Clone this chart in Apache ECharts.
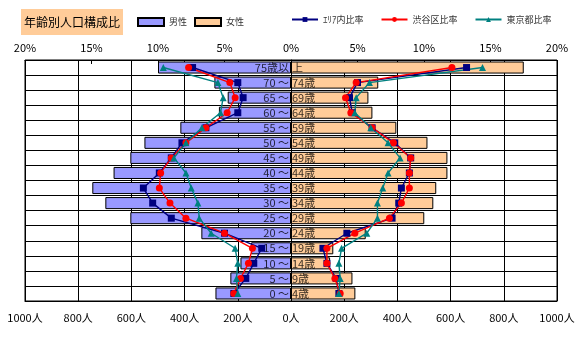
<!DOCTYPE html>
<html><head><meta charset="utf-8">
<script src="https://cdn.jsdelivr.net/npm/echarts@6/dist/echarts.min.js"></script>
<style>html,body{margin:0;padding:0;background:#fff}#c{width:580px;height:340px}</style>
</head><body><div id="c"></div>
<script>
const categories = ['75歳以上','70～74歳','65～69歳','60～64歳','55～59歳','50～54歳','45～49歳','40～44歳','35～39歳','30～34歳','25～29歳','20～24歳','15～19歳','10～14歳','5～9歳','0～4歳'];
const labelLeft  = ['75歳以','70 ～','65 ～','60 ～','55 ～','50 ～','45 ～','40 ～','35 ～','30 ～','25 ～','20 ～','15 ～','10 ～','5 ～','0 ～'];
const labelRight = ['上','74歳','69歳','64歳','59歳','54歳','49歳','44歳','39歳','34歳','29歳','24歳','19歳','14歳','9歳','4歳'];
const malePeople   = [500, 288, 238, 271, 416, 551, 604, 667, 747, 698, 604, 337, 150, 190, 228, 284];
const femalePeople = [875, 328, 291, 306, 396, 513, 588, 588, 546, 535, 501, 281, 159, 147, 231, 242];
const areaMale      = [7.4, 4.0, 3.6, 4.0, 6.4, 8.2, 9.0, 9.9, 11.1, 10.4, 9.0, 5.0, 2.2, 2.8, 3.4, 4.3];
const areaFemale    = [13.2, 5.0, 4.4, 4.6, 6.1, 7.8, 9.0, 8.9, 8.3, 8.1, 7.6, 4.2, 2.4, 2.7, 3.4, 3.6];
const shibuyaMale   = [7.7, 4.6, 4.2, 4.8, 6.4, 7.9, 9.0, 9.8, 9.9, 9.1, 7.9, 5.0, 2.9, 3.2, 3.8, 4.3];
const shibuyaFemale = [12.1, 4.9, 4.1, 4.5, 6.1, 7.7, 9.0, 8.9, 8.9, 8.3, 7.4, 4.8, 2.7, 2.7, 3.3, 3.7];
const tokyoMale     = [9.6, 5.5, 5.1, 5.3, 6.7, 7.9, 8.8, 7.9, 7.5, 7.0, 6.9, 6.0, 4.2, 4.0, 4.1, 4.0];
const tokyoFemale   = [14.4, 5.9, 4.9, 4.8, 6.0, 7.3, 8.2, 7.3, 6.9, 6.5, 6.5, 5.7, 3.8, 3.6, 3.7, 3.6];
const peopleUnit = '人';
const pctUnit = '%';

const FONT = '"Noto Sans CJK JP", "Noto Sans", sans-serif';
const chart = echarts.init(document.getElementById('c'), null, {renderer: 'canvas'});

function lineSeries(name, vals, sign, color, symbol) {
  return {
    name, type: 'line', xAxisIndex: 1, yAxisIndex: 0,
    data: vals.map((v, i) => [sign * v, i]),
    symbol, symbolSize: 7, showAllSymbol: true, z: 5,
    lineStyle: {color, width: 1.4},
    itemStyle: {color},
    emphasis: {disabled: true}
  };
}

const option = {
  animation: false,
  textStyle: {fontFamily: FONT},
  title: {
    text: '年齢別人口構成比', left: 21, top: 9,
    backgroundColor: '#FFCC99', padding: [6, 3],
    textStyle: {fontSize: 12, fontWeight: 'normal', color: '#000', fontFamily: FONT, lineHeight: 14}
  },
  legend: [
    {data: [{name: '男性', icon: 'rect'}, {name: '女性', icon: 'rect'}], left: 132, top: 12, itemWidth: 26, itemHeight: 8, itemGap: 7,
     selectedMode: false, textStyle: {fontSize: 9, color: '#333', fontFamily: FONT}},
    {data: ['ｴﾘｱ内比率', '渋谷区比率', '東京都比率'], left: 286, top: 10, itemWidth: 26, itemHeight: 6, itemGap: 17,
     selectedMode: false, textStyle: {fontSize: 9, color: '#333', fontFamily: FONT}}
  ],
  grid: {left: 25, right: 23, top: 60, bottom: 39, show: true, borderColor: '#000', borderWidth: 1},
  xAxis: [
    {type: 'value', position: 'bottom', min: -1000, max: 1000, interval: 200,
     axisLabel: {formatter: v => Math.abs(v) + peopleUnit, margin: 11, fontSize: 11, color: '#000', fontFamily: FONT},
     axisLine: {show: true, lineStyle: {color: '#000'}}, axisTick: {show: false},
     splitLine: {show: true, lineStyle: {color: '#000', width: 1}}},
    {type: 'value', position: 'top', min: -20, max: 20, interval: 5,
     axisLabel: {formatter: v => Math.abs(v) + pctUnit, margin: 7, fontSize: 11, color: '#000', fontFamily: FONT},
     axisLine: {show: true, lineStyle: {color: '#000'}},
     axisTick: {show: true, inside: true, length: 4, lineStyle: {color: '#000'}},
     splitLine: {show: false}}
  ],
  yAxis: {type: 'category', data: categories, inverse: true,
    axisLabel: {show: false}, axisTick: {show: false},
    axisLine: {show: true, lineStyle: {color: '#000'}},
    splitLine: {show: true, interval: 0, lineStyle: {color: '#000', width: 1}}},
  series: [
    {name: '男性', type: 'bar', xAxisIndex: 0, data: malePeople.map(v => -v),
     barGap: '-100%', barCategoryGap: '20%',
     itemStyle: {color: '#9999FF', borderColor: '#000', borderWidth: 1}, emphasis: {disabled: true}},
    {name: '女性', type: 'bar', xAxisIndex: 0, data: femalePeople,
     barGap: '-100%', barCategoryGap: '20%',
     itemStyle: {color: '#FFCC99', borderColor: '#000', borderWidth: 1}, emphasis: {disabled: true}},
    {type: 'scatter', xAxisIndex: 0, data: categories.map((c, i) => [0, i]), symbolSize: 0, z: 3, silent: true,
     label: {show: true, position: 'left', distance: 2, formatter: p => labelLeft[p.dataIndex], fontSize: 11, color: '#000', fontFamily: FONT}},
    {type: 'scatter', xAxisIndex: 0, data: categories.map((c, i) => [0, i]), symbolSize: 0, z: 3, silent: true,
     label: {show: true, position: 'right', distance: 1, formatter: p => labelRight[p.dataIndex], fontSize: 11, color: '#000', fontFamily: FONT}},
    lineSeries('ｴﾘｱ内比率', areaMale, -1, '#000080', 'rect'),
    lineSeries('ｴﾘｱ内比率', areaFemale, 1, '#000080', 'rect'),
    lineSeries('渋谷区比率', shibuyaMale, -1, '#FF0000', 'circle'),
    lineSeries('渋谷区比率', shibuyaFemale, 1, '#FF0000', 'circle'),
    lineSeries('東京都比率', tokyoMale, -1, '#008080', 'triangle'),
    lineSeries('東京都比率', tokyoFemale, 1, '#008080', 'triangle')
  ]
};
chart.setOption(option);
</script>
</body></html>
